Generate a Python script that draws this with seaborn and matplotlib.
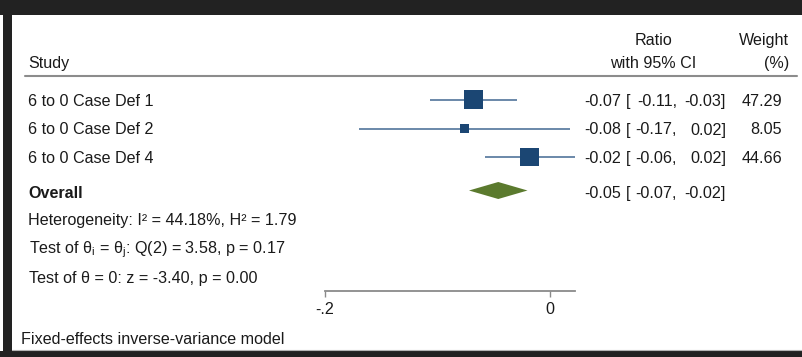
import matplotlib
matplotlib.use("Agg")
import numpy as np
import pandas as pd
import seaborn as sns
import matplotlib.pyplot as plt
import matplotlib.transforms as mtransforms
from matplotlib.patches import Rectangle
from matplotlib.lines import Line2D

# ---------------- data ----------------
studies = ["6 to 0 Case Def 1", "6 to 0 Case Def 2", "6 to 0 Case Def 4"]
ratio = [-0.068, -0.076, -0.018]
ci_low = [-0.107, -0.170, -0.058]
ci_high = [-0.029, 0.018, 0.022]
weight = [47.29, 8.05, 44.66]

overall_est = -0.046
overall_low = -0.072
overall_high = -0.020

het_i2 = 44.18
het_h2 = 1.79
q_df = 2
q_stat = 3.58
q_p = 0.17
z_stat = -3.40
z_p = 0.00

xticks = [-0.2, 0.0]
xtick_labels = ["-.2", "0"]
axis_range = [-0.2, 0.022]

# ---------------- layout (pixels from top) ----------------
W, H = 802, 357
row_y = [99.5, 128.5, 157]
overall_y = 190.5
axis_y = 291

sns.set_theme(style="white")
plt.rcParams["font.family"] = ["Liberation Sans", "DejaVu Sans"]
plt.rcParams["mathtext.fontset"] = "custom"
plt.rcParams["mathtext.rm"] = "Liberation Sans"
plt.rcParams["mathtext.it"] = "Liberation Sans"
plt.rcParams["mathtext.default"] = "regular"

fig = plt.figure(figsize=(W / 100, H / 100), dpi=100)
fig.patch.set_facecolor("white")
px = mtransforms.Affine2D().scale(1 / 100, -1 / 100).translate(0, H / 100) + fig.dpi_scale_trans

# main axes: bottom edge at the axis line
ax = fig.add_axes([0, (H - axis_y) / H, 1, axis_y / H])
ax.set_facecolor("none")
ax.set_xlim(-550 / 1125, (W - 550) / 1125)
ax.set_ylim(axis_y, 0)

navy = "#1b4673"
ci_col = "#5f7fa3"
green = "#5b7a2e"
txt = "#1a1a1a"
fs = 11.6

# CI lines
ax.hlines(row_y, ci_low, ci_high, color=ci_col, lw=1.3, zorder=2)

# squares (area proportional to weight)
df = pd.DataFrame({"study": studies, "ratio": ratio, "y": row_y, "weight": weight})
sns.scatterplot(data=df, x="ratio", y="y", size="weight", sizes=(48, 190),
                marker="s", color=navy, linewidth=0, legend=False, ax=ax, zorder=3)

# overall diamond
dh = 8.5
ax.fill([overall_low, overall_est, overall_high, overall_est],
        [overall_y, overall_y - dh, overall_y, overall_y + dh],
        color=green, lw=0, zorder=3)

# x axis
for s in ["left", "right", "top"]:
    ax.spines[s].set_visible(False)
ax.spines["bottom"].set_visible(True)
ax.spines["bottom"].set_bounds(*axis_range)
ax.spines["bottom"].set_color("#8a8a8a")
ax.spines["bottom"].set_linewidth(1.3)
ax.set_yticks([])
ax.set_xticks(xticks)
ax.set_xticklabels(xtick_labels)
ax.tick_params(axis="x", direction="out", length=4.3, width=1.0, color="#8a8a8a",
               pad=3.5, labelsize=fs, labelcolor=txt, bottom=True)
ax.set_xlabel("")
ax.set_ylabel("")

# ---------------- frame ----------------
dark = "#222222"
fig.add_artist(Rectangle((0, 0), W, 15, transform=px, color=dark, lw=0))
fig.add_artist(Rectangle((2.5, 0), 9.5, H, transform=px, color=dark, lw=0))
fig.add_artist(Rectangle((0, 351), W, 6, transform=px, color=dark, lw=0))
fig.add_artist(Line2D([12, W], [350, 350], transform=px, color="#b5b5b5", lw=0.8))

# header rule
fig.add_artist(Line2D([25, 797], [76, 76], transform=px, color="#8c8c8c", lw=1.5))

def t(x, y, s, ha="left", weight="normal"):
    fig.text(x, y, s, transform=px, ha=ha, va="baseline", fontsize=fs,
             color=txt, fontweight=weight)

# headers
t(28, 68, "Study")
t(653, 45, "Ratio", ha="center")
t(653, 68, "with 95% CI", ha="center")
t(789, 45, "Weight", ha="right")
t(789, 68, "(%)", ha="right")

def ci_cols(b, est, lo, hi):
    t(621, b, f"{est:.2f}", ha="right")
    t(625.5, b, "[")
    t(677, b, f"{lo:.2f},", ha="right")
    t(726, b, f"{hi:.2f}]", ha="right")

baselines = [106, 134.5, 163]
for name, r, lo, hi, w, b in zip(studies, ratio, ci_low, ci_high, weight, baselines):
    t(28, b, name)
    ci_cols(b, r, lo, hi)
    t(782, b, f"{w:.2f}", ha="right")

t(28, 198, "Overall", weight="bold")
ci_cols(198, overall_est, overall_low, overall_high)

t(28, 225.5, f"Heterogeneity: I\u00b2 = {het_i2:.2f}%, H\u00b2 = {het_h2:.2f}")
t(29, 253.5, f"Test of \u03b8$_{{i}}$ = \u03b8$_{{j}}$: Q({q_df}) = {q_stat:.2f}, p = {q_p:.2f}")
t(29, 282.5, f"Test of \u03b8 = 0: z = {z_stat:.2f}, p = {z_p:.2f}")
t(21, 344, "Fixed-effects inverse-variance model")

fig.savefig("out.png", dpi=100)
